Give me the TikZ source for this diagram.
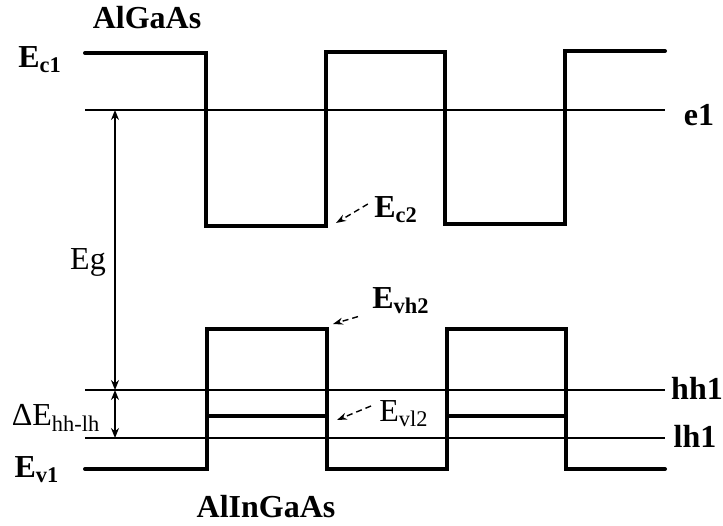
\documentclass[tikz,border=0pt]{standalone}
\usepackage{fontspec}
\setmainfont{Liberation Serif}
\usetikzlibrary{arrows.meta, positioning}
\tikzset{
  band/.style={line width=2pt, line cap=round, line join=miter},
  level/.style={line width=1pt},
  gap/.style={<->, line width=0.8pt, >={Stealth[length=5pt, width=4pt]}},
  pointer/.style={->, densely dashed, line width=0.7pt, >={Stealth[length=5pt, width=3.5pt]}},
  lab/.style={font=\fontsize{16}{19}\selectfont\bfseries, inner sep=1pt},
  plainlab/.style={font=\fontsize{16}{19}\selectfont, inner sep=1pt}
}

\begin{document}
\begin{tikzpicture}[x=0.5pt, y=-0.5pt]
  \useasboundingbox (0,0) rectangle (723,525);

  % conduction band
  \draw[band] (85,53) -- (206,53) -- (206,226) -- (326,226) -- (326,52)
    -- (445,52) -- (445,224) -- (565,224) -- (565,51) -- (665,51);
  \draw[level] (85,110) -- (665,110);

  % valence band
  \draw[band] (85,469) -- (207,469) -- (207,329) -- (327,329) -- (327,469)
    -- (447,469) -- (447,329) -- (566,329) -- (566,469) -- (665,469);
  \draw[level] (85,390) -- (665,390);
  \draw[level] (85,438) -- (665,438);
  \draw[band] (207,416) -- (327,416);
  \draw[band] (447,416) -- (566,416);

  % gap arrows
  \coordinate (eTop) at (115,110);
  \coordinate (hhMid) at (115,390);
  \coordinate (lhBot) at (115,438);
  \draw[gap] (eTop) -- (hhMid);
  \draw[gap] (hhMid) -- (lhBot);

  % labels
  \node[lab] (alGaAs) at (147,18) {AlGaAs};
  \node[lab] (ec1) at (40,60) {E\textsubscript{c1}};
  \node[plainlab] (eg) at (88,262) {Eg};
  \node[plainlab] (dEhl) at (56,418) {ΔE\textsubscript{hh-lh}};
  \node[lab] (ev1) at (37,470) {E\textsubscript{v1}};
  \node[lab] (alInGaAs) at (266,507) {AlInGaAs};
  \node[lab] (e1) at (699,115) {e1};
  \node[lab] (hh1) at (697,388) {hh1};
  \node[lab] (lh1) at (695,436) {lh1};

  \node[lab] (ec2) at (396,210) {E\textsubscript{c2}};
  \node[lab] (evh2) at (401,301) {E\textsubscript{vh2}};
  \node[plainlab] (evl2) at (404,414) {E\textsubscript{vl2}};

  % pointers
  \coordinate (c2Tip) at (336,223);
  \coordinate (vh2Tip) at (333,324);
  \coordinate (vl2Tip) at (337,420);
  \draw[pointer] ([xshift=-2pt, yshift=3pt]ec2.west) -- (c2Tip);
  \draw[pointer] ([xshift=-6pt]evh2.south west) -- (vh2Tip);
  \draw[pointer] ([xshift=-3pt, yshift=4pt]evl2.west) -- (vl2Tip);
\end{tikzpicture}
\end{document}
